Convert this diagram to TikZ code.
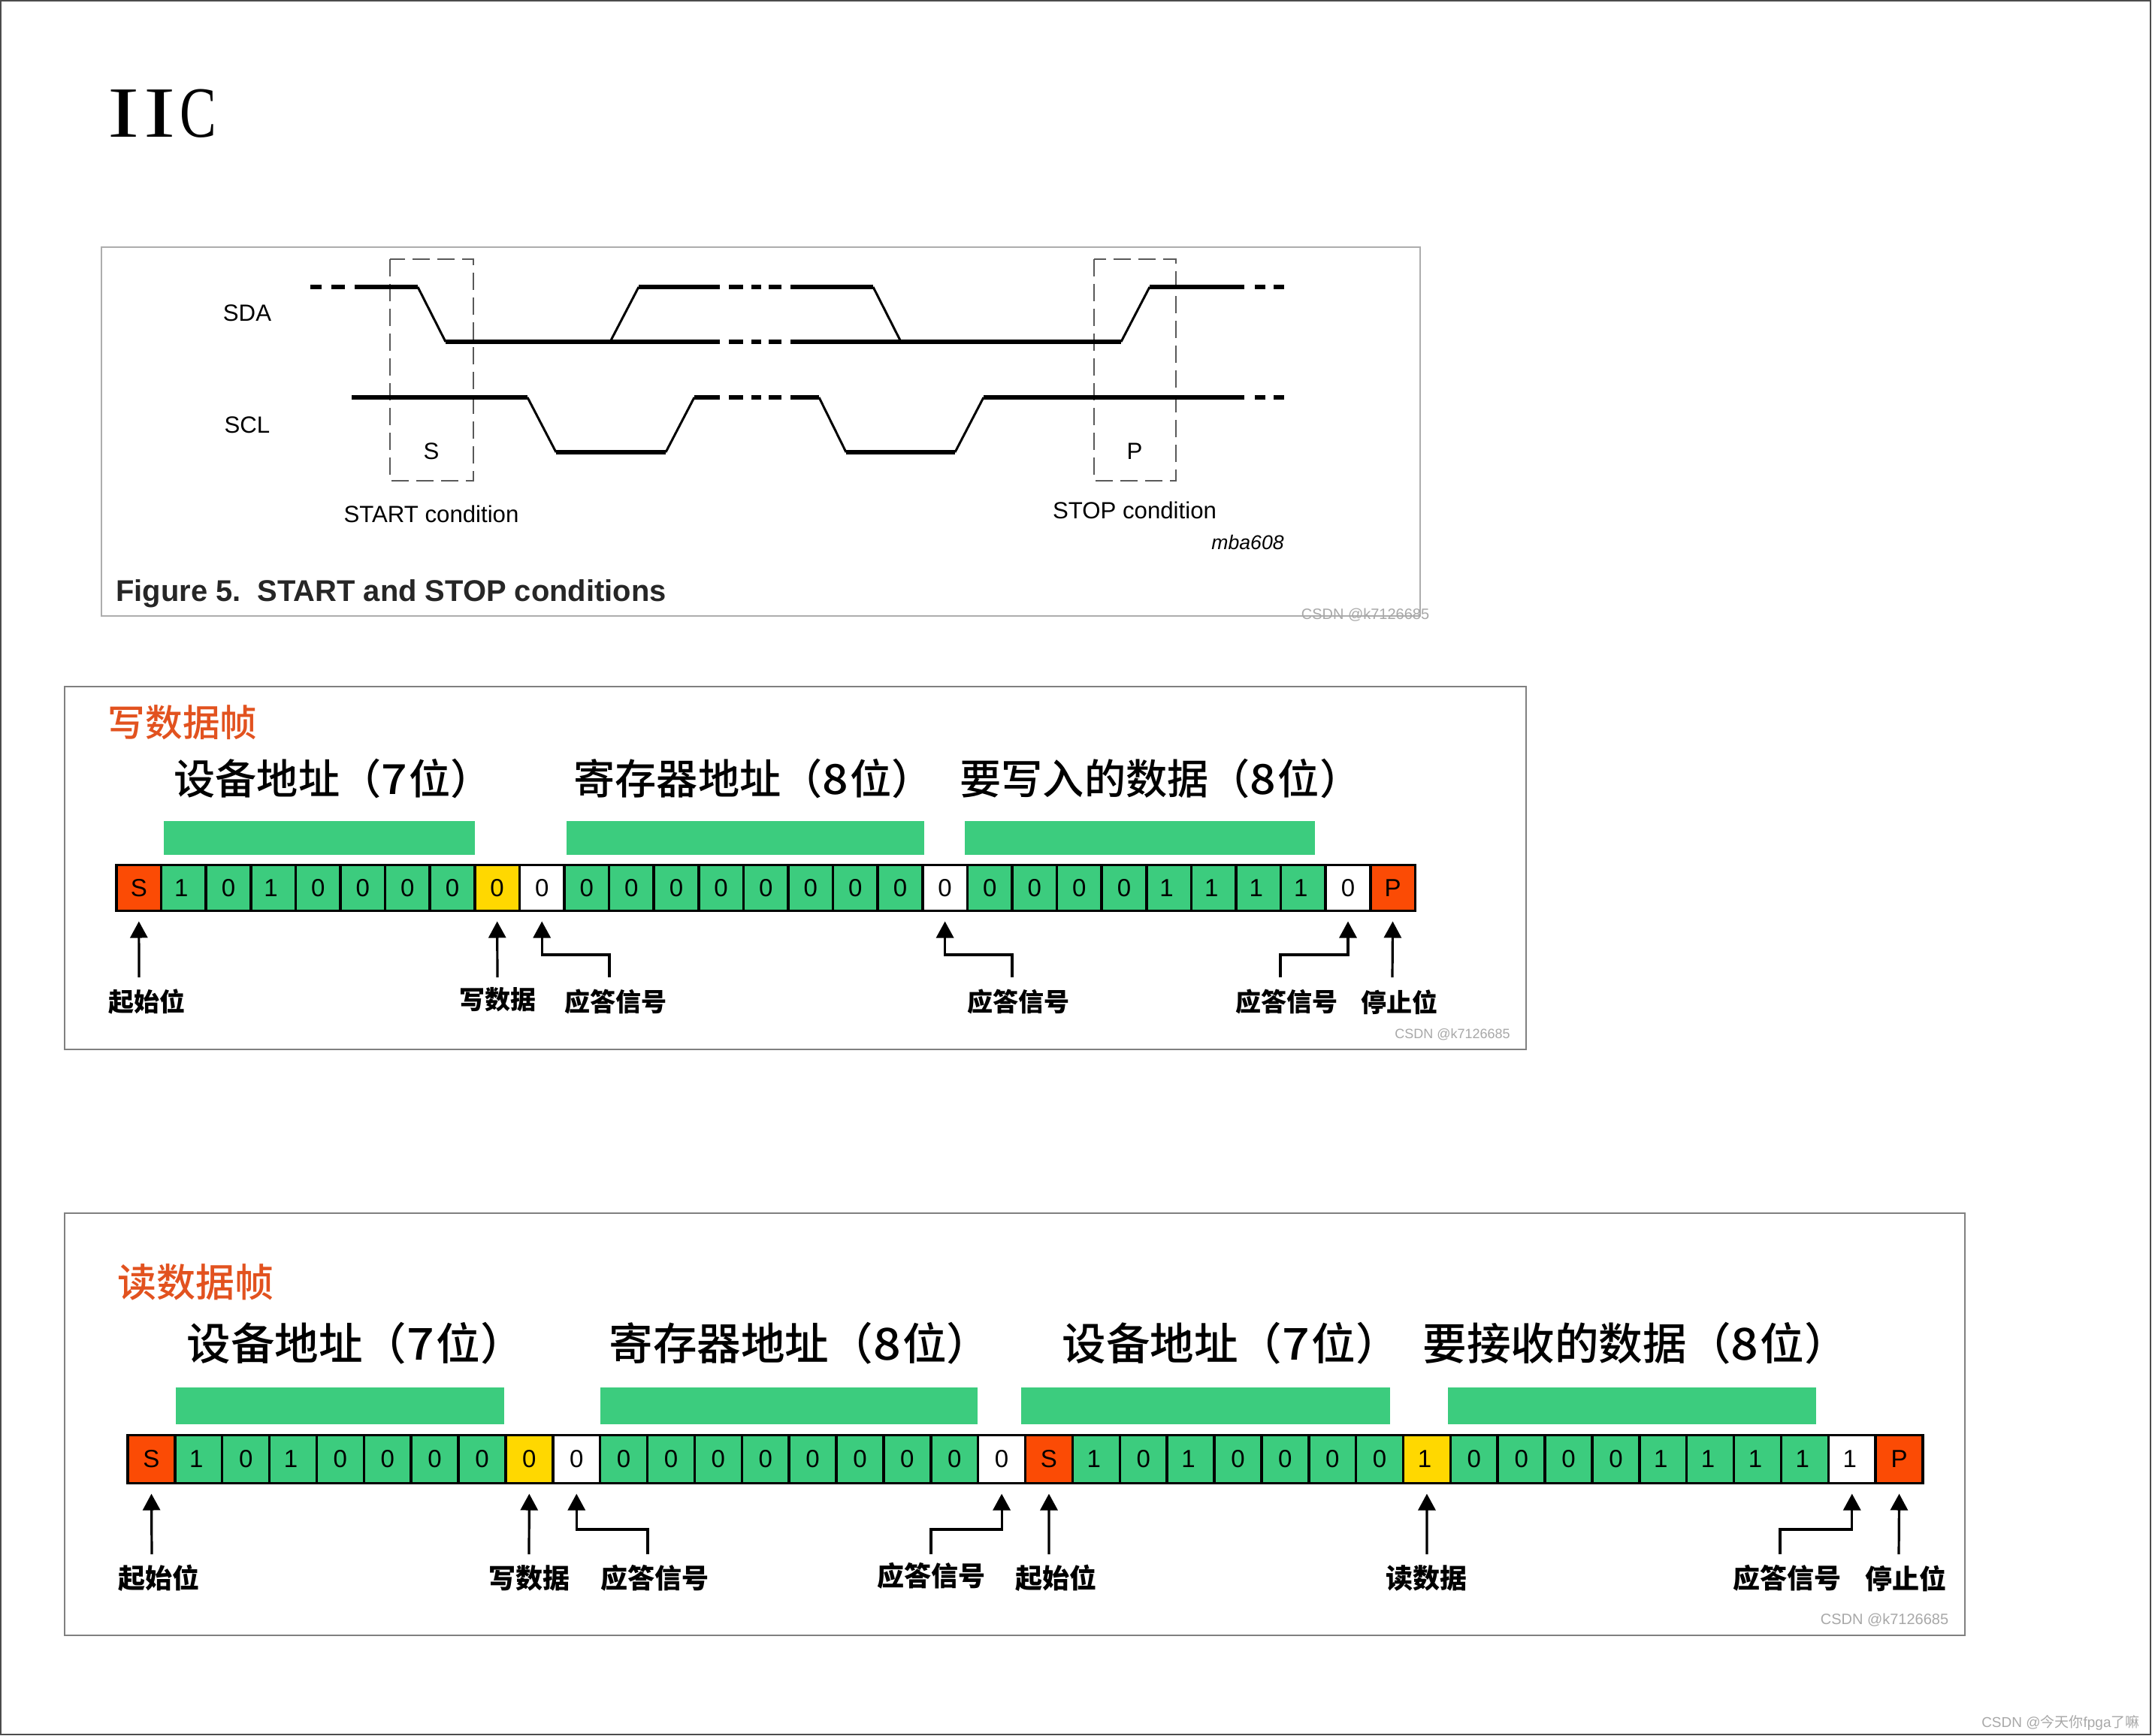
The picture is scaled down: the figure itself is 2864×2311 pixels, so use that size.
\documentclass[tikz,border=0pt]{standalone}
\usepackage{fontspec}
\usetikzlibrary{arrows.meta}
\setmainfont{Liberation Sans}
\newfontfamily\cjk{Noto Sans CJK SC}
\newfontfamily\cjkm[UprightFont={* Medium}]{Noto Sans CJK SC}
\newfontfamily\serifx{Liberation Serif}
\definecolor{bitgreen}{HTML}{3CCC7E}
\definecolor{bitred}{HTML}{FB4B05}
\definecolor{bityellow}{HTML}{FFD800}
\definecolor{headred}{HTML}{E2521F}
\definecolor{wmgray}{HTML}{A8A8A8}
\newcommand\oneb{\kern-3pt 1}
\newcommand\wdig[1]{\scalebox{1.1}[1]{#1}\kern1.2pt}
\newcommand\widei{\scalebox{1.32}[1]{I}}
\tikzset{
  x=0.5pt,y=-0.5pt,
  framebox/.style={draw=#1,line width=1pt,fill=white},
  bar/.style={fill=bitgreen,draw=none},
  bitw/.style={draw=black,line width=1.75pt,outer sep=0pt,inner sep=0pt,minimum width=29.8pt,minimum height=30.5pt,font=\fontsize{16.5pt}{18pt}\selectfont},
  bitr/.style={draw=black,line width=1.75pt,outer sep=0pt,inner sep=0pt,minimum width=31.45pt,minimum height=32pt,font=\fontsize{16.5pt}{18pt}\selectfont},
  arr/.style={draw=black,line width=1.6pt,-{Triangle[length=11pt,width=11.5pt]},shorten >=7pt},
  heada/.style={anchor=west,inner sep=0pt,font=\cjkm\fontsize{27.6pt}{30pt}\selectfont},
  headb/.style={anchor=west,inner sep=0pt,font=\cjkm\fontsize{29.3pt}{32pt}\selectfont},
  lbla/.style={inner sep=0pt,font=\cjk\bfseries\fontsize{17pt}{19pt}\selectfont},
  lblb/.style={inner sep=0pt,font=\cjk\bfseries\fontsize{18pt}{20pt}\selectfont},
  sig/.style={inner sep=0pt,font=\fontsize{15.6pt}{18pt}\selectfont},
  hi/.style={line width=3.3pt},
  lo/.style={line width=2.8pt},
  slope/.style={line width=1.5pt},
  dbox/.style={draw=black!65,line width=1.2pt,dash pattern=on 11.5pt off 5pt},
  wm/.style={inner sep=0pt,text=wmgray},
}
\begin{document}
\begin{tikzpicture}
\useasboundingbox (0,0) rectangle (2864,2311);
\fill[white] (0,0) rectangle (2864,2311);
\draw[black!70,line width=1.2pt] (1,1) rectangle (2862,2309);

% title
\node[anchor=west,inner sep=0pt,font=\serifx\fontsize{48pt}{54pt}\selectfont] (title) at (143,151) {\widei\kern3pt\widei\kern3pt\scalebox{0.76}[1]{C}};

% ---------- figure 5
\draw[framebox=black!32,line width=1.4pt] (135,329) rectangle (1890,820);
\draw[dbox] (519,345) rectangle (630,640);
\draw[dbox] (1456,345) rectangle (1565,640);
% SDA
\draw[hi] (413,382)--(428,382) (441,382)--(459,382) (472,382)--(556,382);
\draw[slope] (556,382)--(593,455);
\draw[lo] (593,455)--(958,455);
\draw[slope] (812,455)--(850,382);
\draw[hi] (850,382)--(958,382);
\foreach \y/\s in {382/hi,455/lo}{
  \draw[\s] (970,\y)--(989,\y) (1000,\y)--(1013,\y) (1023,\y)--(1040,\y);
}
\draw[hi] (1052,382)--(1162,382);
\draw[slope] (1162,382)--(1199,455);
\draw[lo] (1052,455)--(1492,455);
\draw[slope] (1492,455)--(1530,382);
\draw[hi] (1530,382)--(1656,382) (1670,382)--(1684,382) (1695,382)--(1709,382);
% SCL
\draw[hi] (468,529)--(702,529);
\draw[slope] (702,529)--(740,602);
\draw[lo] (740,602)--(886,602);
\draw[slope] (886,602)--(924,529);
\draw[hi] (924,529)--(958,529) (970,529)--(989,529) (1000,529)--(1013,529) (1023,529)--(1040,529) (1052,529)--(1090,529);
\draw[slope] (1090,529)--(1126,602);
\draw[lo] (1126,602)--(1271,602);
\draw[slope] (1271,602)--(1309,529);
\draw[hi] (1309,529)--(1656,529) (1670,529)--(1684,529) (1695,529)--(1709,529);
\node[sig] (sda) at (329,417) {SDA};
\node[sig] (scl) at (329,566) {SCL};
\node[sig] (s) at (574,601) {S};
\node[sig] (p) at (1510,601) {P};
\node[sig] (startc) at (574,684) {START condition};
\node[sig] (stopc) at (1510,679) {STOP condition};
\node[sig,anchor=east,font=\itshape\fontsize{13.3pt}{16pt}\selectfont] (mba) at (1709,722) {mba608};
\node[anchor=west,inner sep=0pt,text=black!85,font=\bfseries\fontsize{19.95pt}{22pt}\selectfont] (cap) at (154,790) {Figure 5.\ \ START and STOP conditions};
\node[wm,font=\fontsize{10pt}{12pt}\selectfont] (wm1) at (1817,819) {CSDN @k7126685};

% ---------- write frame
\draw[framebox=black!50] (86,914) rectangle (2031,1397);
\node[inner sep=0pt,text=headred,font=\cjkm\fontsize{24.8pt}{27pt}\selectfont] (wtitle) at (243,962) {写数据帧};
\node[heada] (wh1) at (231,1037) {设备地址（\wdig{7}位）};
\node[heada] (wh2) at (763,1037) {寄存器地址（\wdig{8}位）};
\node[heada] (wh3) at (1277,1037) {要写入的数据（\wdig{8}位）};
\fill[bar] (218,1093) rectangle (632,1138);
\fill[bar] (754,1093) rectangle (1230,1138);
\fill[bar] (1284,1093) rectangle (1750,1138);
\foreach \i/\t/\c in {0/S/bitred,1/\oneb/bitgreen,2/0/bitgreen,3/\oneb/bitgreen,4/0/bitgreen,5/0/bitgreen,6/0/bitgreen,7/0/bitgreen,8/0/bityellow,9/0/white,
 10/0/bitgreen,11/0/bitgreen,12/0/bitgreen,13/0/bitgreen,14/0/bitgreen,15/0/bitgreen,16/0/bitgreen,17/0/bitgreen,18/0/white,
 19/0/bitgreen,20/0/bitgreen,21/0/bitgreen,22/0/bitgreen,23/\oneb/bitgreen,24/\oneb/bitgreen,25/\oneb/bitgreen,26/\oneb/bitgreen,27/0/white,28/P/bitred}{
  \pgfmathsetmacro\cx{155+59.6*(\i+0.5)}
  \node[bitw,fill=\c] (w\i) at (\cx,1182) {\t};
}
\node[lbla] (wl0) at (195,1334) {起始位};
\node[lbla] (wl8) at (662,1331) {写数据};
\node[lbla] (wl9) at (819,1334) {应答信号};
\node[lbla] (wl18) at (1355,1334) {应答信号};
\node[lbla] (wl27) at (1712,1334) {应答信号};
\node[lbla] (wl28) at (1862,1334) {停止位};
\foreach \n/\x in {0/185,8/662,9/811,18/1347,27/1704,28/1853}{
  \coordinate (wt\n) at (\x,1301);
}
\foreach \n in {9,18,27}{
  \coordinate (we\n) at (w\n.south |- 0,1271);
}
\draw[arr] (wt0) -- (w0.south);
\draw[arr] (wt8) -- (w8.south);
\draw[arr] (wt28) -- (w28.south);
\draw[arr] (wt9) |- (we9) -- (w9.south);
\draw[arr] (wt18) |- (we18) -- (w18.south);
\draw[arr] (wt27) |- (we27) -- (w27.south);
\node[wm,font=\fontsize{9pt}{11pt}\selectfont] (wm2) at (1933,1377) {CSDN @k7126685};

% ---------- read frame
\draw[framebox=black!50] (86,1615) rectangle (2615,2177);
\node[inner sep=0pt,text=headred,font=\cjkm\fontsize{26pt}{29pt}\selectfont] (rtitle) at (260,1707) {读数据帧};
\node[headb] (rh1) at (248,1788) {设备地址（\wdig{7}位）};
\node[headb] (rh2) at (810,1788) {寄存器地址（\wdig{8}位）};
\node[headb] (rh3) at (1413,1788) {设备地址（\wdig{7}位）};
\node[headb] (rh4) at (1893,1788) {要接收的数据（\wdig{8}位）};
\fill[bar] (234,1847) rectangle (671,1896);
\fill[bar] (799,1847) rectangle (1301,1896);
\fill[bar] (1359,1847) rectangle (1850,1896);
\fill[bar] (1927,1847) rectangle (2417,1896);
\foreach \i/\t/\c in {0/S/bitred,1/\oneb/bitgreen,2/0/bitgreen,3/\oneb/bitgreen,4/0/bitgreen,5/0/bitgreen,6/0/bitgreen,7/0/bitgreen,8/0/bityellow,9/0/white,
 10/0/bitgreen,11/0/bitgreen,12/0/bitgreen,13/0/bitgreen,14/0/bitgreen,15/0/bitgreen,16/0/bitgreen,17/0/bitgreen,18/0/white,
 19/S/bitred,20/\oneb/bitgreen,21/0/bitgreen,22/\oneb/bitgreen,23/0/bitgreen,24/0/bitgreen,25/0/bitgreen,26/0/bitgreen,27/\oneb/bityellow,
 28/0/bitgreen,29/0/bitgreen,30/0/bitgreen,31/0/bitgreen,32/\oneb/bitgreen,33/\oneb/bitgreen,34/\oneb/bitgreen,35/\oneb/bitgreen,36/\oneb/white,37/P/bitred}{
  \pgfmathsetmacro\cx{170+62.87*(\i+0.5)}
  \node[bitr,fill=\c] (r\i) at (\cx,1942.5) {\t};
}
\node[lblb] (rl0) at (211,2101) {起始位};
\node[lblb] (rl8) at (704,2101) {写数据};
\node[lblb] (rl9) at (871,2101) {应答信号};
\node[lblb] (rl18) at (1239,2098) {应答信号};
\node[lblb] (rl19) at (1405,2101) {起始位};
\node[lblb] (rl27) at (1898,2101) {读数据};
\node[lblb] (rl36) at (2378,2101) {应答信号};
\node[lblb] (rl37) at (2536,2101) {停止位};
\foreach \n/\x in {0/202,8/704,9/862,18/1239,19/1396,27/1899,36/2369,37/2527}{
  \coordinate (rt\n) at (\x,2069);
}
\foreach \n in {9,18,36}{
  \coordinate (re\n) at (r\n.south |- 0,2036);
}
\draw[arr] (rt0) -- (r0.south);
\draw[arr] (rt8) -- (r8.south);
\draw[arr] (rt19) -- (r19.south);
\draw[arr] (rt27) -- (r27.south);
\draw[arr] (rt37) -- (r37.south);
\draw[arr] (rt9) |- (re9) -- (r9.south);
\draw[arr] (rt18) |- (re18) -- (r18.south);
\draw[arr] (rt36) |- (re36) -- (r36.south);
\node[wm,font=\fontsize{10pt}{12pt}\selectfont] (wm3) at (2508,2157) {CSDN @k7126685};
\node[wm,anchor=east,font=\fontsize{9.5pt}{11pt}\selectfont] (wm4) at (2848,2293) {CSDN @{\cjk 今天你}fpga{\cjk 了嘛}};
\end{tikzpicture}
\end{document}
